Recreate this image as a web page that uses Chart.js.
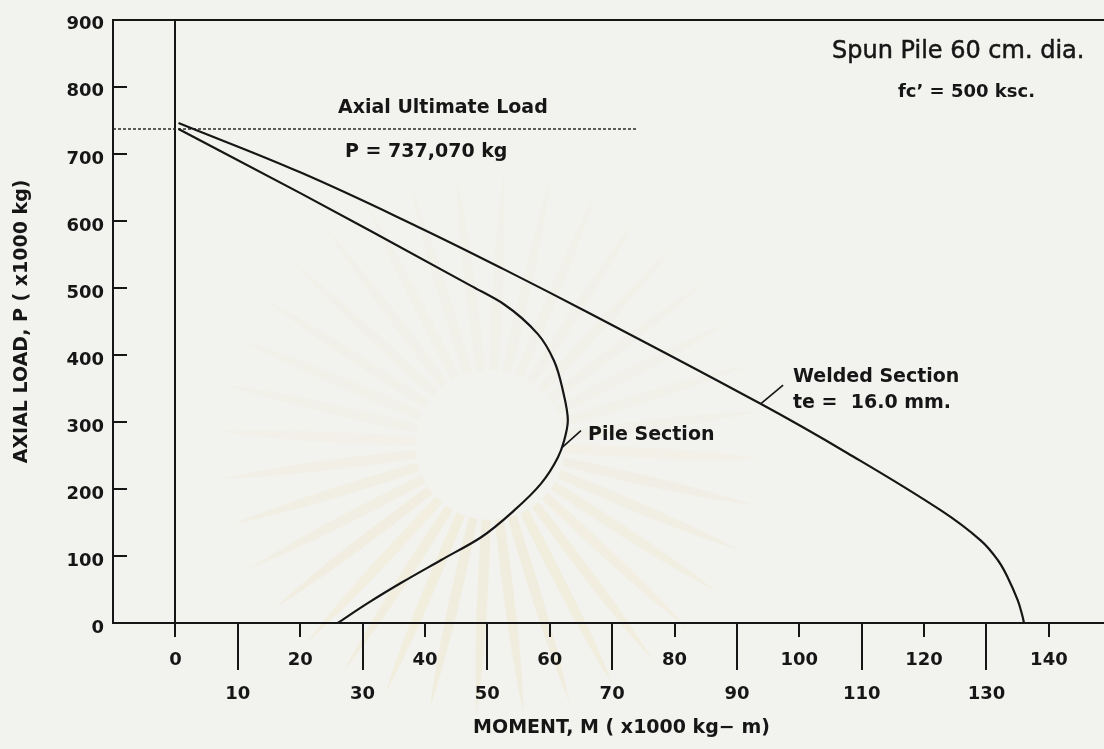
<!DOCTYPE html>
<html>
<head>
<meta charset="utf-8">
<script src="https://cdn.jsdelivr.net/npm/chart.js@4.4.1/dist/chart.umd.min.js"></script>
<style>
  html, body { margin: 0; padding: 0; overflow: hidden; background: #f2f2ef; }
  #wrap { width: 1130px; height: 749px; }
</style>
</head>
<body>
<div id="wrap"><canvas id="c" width="1130" height="749"></canvas></div>
<script>
// Interaction diagram of a 60 cm spun pile: pile section vs. welded joint section.
// Moment in x1000 kg-m, axial load in x1000 kg.
const pileMoment = [0.5, 20.1, 31.3, 47.4, 52.6, 58.1, 60.7, 62.1, 62.9, 62.3, 61.3, 58.6, 54.3, 49.0, 42.6, 36.2, 30.9, 26.0];
const pileLoad   = [737, 641, 585, 503, 476, 431, 391, 347, 302, 272, 247, 208, 168, 128, 94, 60, 30, 0];

const weldMoment = [0.5, 20.1, 38.9, 52.6, 66.6, 93.8, 107.8, 122.7, 129.1, 131.8, 133.4, 135.0, 135.8, 136.0];
const weldLoad   = [746, 672, 591, 528, 461, 327, 253, 168, 123, 94, 68, 34, 9, 0];

const ultimateLoad = 737.07;           // P = 737,070 kg
const ultimateLineMoment = [-10, 74];  // extent of the dotted reference line

const pileLeaderMoment = [62.0, 65.0];
const pileLeaderLoad   = [262, 287];
const weldLeaderMoment = [93.8, 97.4];
const weldLeaderLoad   = [327, 355];

const loadTicks = [0, 100, 200, 300, 400, 500, 600, 700, 800, 900];
const momentUpperRow = [0, 20, 40, 60, 80, 100, 120, 140];
const momentLowerRow = [10, 30, 50, 70, 90, 110, 130];

const INK = '#161616';
const toPts = (xs, ys) => xs.map((v, i) => ({ x: v, y: ys[i] }));

const decor = {
  id: 'decor',
  beforeDraw(chart) {
    const { ctx, width, height } = chart;
    ctx.save();
    ctx.fillStyle = '#f2f2ef';
    ctx.fillRect(0, 0, width, height);
    // faint emblem printed on the sheet
    const cx = 490, cy = 445;
    for (let i = 0; i < 36; i++) {
      const a = i * Math.PI * 2 / 36 + 0.05;
      const w = 0.06;
      const alpha = 0.05 + 0.13 * Math.max(0, Math.sin(a) + 0.3) / 1.3;
      ctx.beginPath();
      ctx.moveTo(cx + Math.cos(a - w) * 75, cy + Math.sin(a - w) * 75);
      ctx.quadraticCurveTo(cx + Math.cos(a - w * 0.6) * 200, cy + Math.sin(a - w * 0.6) * 200,
                           cx + Math.cos(a) * 270, cy + Math.sin(a) * 270);
      ctx.quadraticCurveTo(cx + Math.cos(a + w * 0.6) * 200, cy + Math.sin(a + w * 0.6) * 200,
                           cx + Math.cos(a + w) * 75, cy + Math.sin(a + w) * 75);
      ctx.closePath();
      ctx.fillStyle = 'rgba(240, 218, 145, ' + alpha.toFixed(3) + ')';
      ctx.fill();
    }
    ctx.restore();
  },
  afterDraw(chart) {
    const { ctx, chartArea, scales: { x, y } } = chart;
    ctx.save();
    ctx.strokeStyle = INK;
    ctx.lineWidth = 2;
    ctx.lineCap = 'butt';
    // inward tick marks on the load axis
    loadTicks.forEach(v => {
      if (v <= 0 || v >= 900) return;
      const py = Math.round(y.getPixelForValue(v));
      ctx.beginPath();
      ctx.moveTo(chartArea.left, py);
      ctx.lineTo(chartArea.left + 14, py);
      ctx.stroke();
    });
    // long tick marks for the lower label row
    momentLowerRow.forEach(v => {
      const px = Math.round(x.getPixelForValue(v));
      ctx.beginPath();
      ctx.moveTo(px, chartArea.bottom);
      ctx.lineTo(px, chartArea.bottom + 47);
      ctx.stroke();
    });

    // notes
    ctx.fillStyle = INK;
    ctx.textBaseline = 'middle';
    ctx.textAlign = 'left';
    ctx.font = '24px "DejaVu Sans"';
    ctx.lineWidth = 0.5;
    ctx.fillText('Spun Pile 60 cm. dia.', 832, 52);
    ctx.strokeText('Spun Pile 60 cm. dia.', 832, 52);
    ctx.font = 'bold 18px "DejaVu Sans"';
    ctx.fillText('fc\u2019 = 500 ksc.', 898, 92);
    ctx.font = 'bold 19px "DejaVu Sans"';
    ctx.fillText('Axial Ultimate Load', 338, 108);
    ctx.fillText('P = 737,070 kg', 345, 152);
    ctx.fillText('Welded Section', 793, 377);
    ctx.fillText('te =  16.0 mm.', 793, 403);
    ctx.fillText('Pile Section', 588, 435);
    ctx.restore();
  }
};

new Chart(document.getElementById('c'), {
  type: 'scatter',
  data: {
    datasets: [
      {
        // single-valued in load, so splined along the load axis
        label: 'Pile Section',
        data: toPts(pileMoment, pileLoad),
        type: 'line', indexAxis: 'y', cubicInterpolationMode: 'monotone',
        borderColor: INK, borderWidth: 2.2, pointRadius: 0, fill: false
      },
      {
        label: 'Welded Section',
        data: toPts(weldMoment, weldLoad),
        type: 'line', indexAxis: 'y', tension: 0.4,
        borderColor: INK, borderWidth: 2.2, pointRadius: 0, fill: false
      },
      {
        label: 'Axial Ultimate Load',
        data: ultimateLineMoment.map(m => ({ x: m, y: ultimateLoad })),
        showLine: true, borderColor: '#2a2a2a', borderWidth: 1.6, borderDash: [3, 2],
        pointRadius: 0, fill: false
      },
      {
        label: 'pile leader',
        data: toPts(pileLeaderMoment, pileLeaderLoad),
        showLine: true, borderColor: INK, borderWidth: 1.6, pointRadius: 0
      },
      {
        label: 'weld leader',
        data: toPts(weldLeaderMoment, weldLeaderLoad),
        showLine: true, borderColor: INK, borderWidth: 1.6, pointRadius: 0
      }
    ]
  },
  options: {
    responsive: false,
    animation: false,
    devicePixelRatio: 1,
    layout: { padding: { top: 18, right: 0, left: 0, bottom: 0 } },
    plugins: { legend: { display: false }, tooltip: { enabled: false } },
    scales: {
      x: {
        type: 'linear',
        min: -10,
        max: 153,
        afterFit(scale) { scale.height = 126; },
        afterBuildTicks(scale) {
          scale.ticks = momentUpperRow.concat(momentLowerRow).concat([-10])
            .sort((a, b) => a - b).map(v => ({ value: v }));
        },
        border: { display: true, color: INK, width: 2 },
        grid: {
          drawOnChartArea: true,
          color: c => (c.tick && c.tick.value === 0 ? INK : 'rgba(0,0,0,0)'),
          lineWidth: 2,
          drawTicks: true,
          tickLength: 14,
          tickWidth: 2,
          tickColor: c => (c.tick && momentUpperRow.includes(c.tick.value) ? INK : 'rgba(0,0,0,0)')
        },
        ticks: {
          autoSkip: false,
          maxRotation: 0,
          minRotation: 0,
          padding: 6,
          color: INK,
          font: { family: 'DejaVu Sans', size: 18, weight: 'bold', lineHeight: 1.89 },
          callback: v => {
            if (momentUpperRow.includes(v)) return String(v);
            if (momentLowerRow.includes(v)) return ['', String(v)];
            return '';
          }
        },
        title: {
          display: true,
          text: 'MOMENT, M ( x1000 kg\u2212 m)',
          color: INK,
          font: { family: 'DejaVu Sans', size: 19, weight: 'bold', lineHeight: 1.2 },
          padding: { top: 0, bottom: 10 }
        }
      },
      y: {
        type: 'linear',
        min: 0,
        max: 900,
        afterFit(scale) { scale.width = 113; },
        afterBuildTicks(scale) { scale.ticks = loadTicks.map(v => ({ value: v })); },
        border: { display: true, color: INK, width: 2 },
        grid: {
          drawOnChartArea: true,
          drawTicks: false,
          color: c => (c.tick && c.tick.value === 900 ? INK : 'rgba(0,0,0,0)'),
          lineWidth: 2
        },
        ticks: {
          padding: 9,
          labelOffset: 5,
          color: INK,
          font: { family: 'DejaVu Sans', size: 18, weight: 'bold' },
          callback: v => String(v)
        },
        title: {
          display: true,
          text: 'AXIAL LOAD, P ( x1000 kg)',
          color: INK,
          font: { family: 'DejaVu Sans', size: 19, weight: 'bold', lineHeight: 1.2 },
          padding: { top: 11, bottom: 0 }
        }
      }
    }
  },
  plugins: [decor]
});
</script>
</body>
</html>
